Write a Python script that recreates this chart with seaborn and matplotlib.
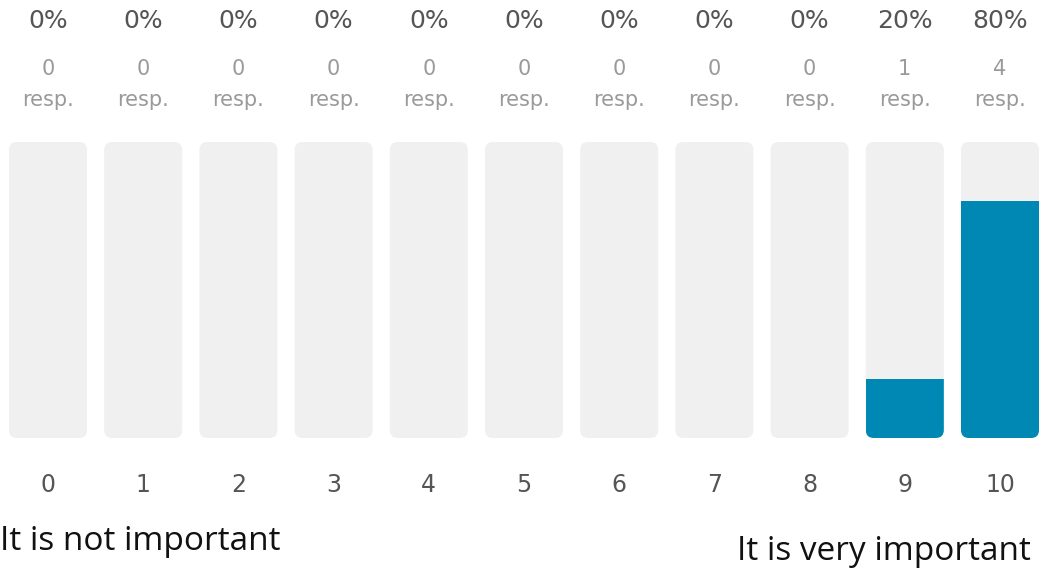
import numpy as np
import matplotlib
matplotlib.use("Agg")
import matplotlib.pyplot as plt
from matplotlib.patches import FancyBboxPatch
from matplotlib.transforms import blended_transform_factory
import seaborn as sns

# Survey scale 0-10, share of respondents per score
scores = ["0", "1", "2", "3", "4", "5", "6", "7", "8", "9", "10"]
responses = [0, 0, 0, 0, 0, 0, 0, 0, 0, 1, 4]
percents = [0, 0, 0, 0, 0, 0, 0, 0, 0, 20, 80]
track = [100] * len(scores)
low_label = "It is not important"
high_label = "It is very important"

BLUE = "#0088b4"
TRACK = "#f0f0f0"

sns.set_theme(style="white")
plt.rcParams["font.family"] = ["DejaVu Sans"]

W, H = 1052, 571
fig = plt.figure(figsize=(W / 100, H / 100), dpi=100)
ax = fig.add_axes([0.4 / W, (H - 438) / H, 1047.2 / W, 296 / H])

bar_w = 0.82
# grey track bars (full 100%)
sns.barplot(x=scores, y=track, color=TRACK, width=bar_w, ax=ax, saturation=1)
n_track = len(ax.patches)
track_patches = []
r_x = 0.085
aspect = (100 / 296) / (1 / 95.2)
for p in list(ax.patches)[:n_track]:
    x0, y0 = p.get_x(), p.get_y()
    w, h = p.get_width(), p.get_height()
    p.remove()
    rp = FancyBboxPatch((x0, y0), w, h,
                        boxstyle=f"round,pad=0,rounding_size={r_x}",
                        mutation_aspect=aspect, facecolor=TRACK,
                        edgecolor="none", zorder=1)
    ax.add_patch(rp)
    track_patches.append(rp)

# blue value bars clipped to the rounded tracks
before = len(ax.patches)
sns.barplot(x=scores, y=percents, color=BLUE, width=bar_w, ax=ax, saturation=1)
value_patches = list(ax.patches)[before:]
for vp, tp in zip(value_patches, track_patches):
    vp.set_zorder(2)
    vp.set_edgecolor("none")
    vp.set_clip_path(tp)

ax.set_xlim(-0.5, len(scores) - 0.5)
ax.set_ylim(0, 100)
ax.set_xlabel("")
ax.set_ylabel("")
ax.set_yticks([])
ax.set_xticks([])
sns.despine(ax=ax, left=True, bottom=True)

tr = blended_transform_factory(ax.transData, fig.transFigure)
for i, (pct, n) in enumerate(zip(percents, responses)):
    ax.text(i, 1 - 21 / H, f"{pct}%", transform=tr, ha="center", va="center",
            fontsize=18, color="#555555")
    ax.text(i, 1 - 69 / H, f"{n}", transform=tr, ha="center", va="center",
            fontsize=15, color="#9a9a9a")
    ax.text(i, 1 - 100 / H, "resp.", transform=tr, ha="center", va="center",
            fontsize=15, color="#9a9a9a")
    ax.text(i, 1 - 485 / H, scores[i], transform=tr, ha="center", va="center",
            fontsize=17, color="#555555")

fig.text(0 / W, 1 - 541 / H, low_label, ha="left", va="center",
         fontsize=24, color="#111111", family=["Open Sans", "DejaVu Sans"])
fig.text(1031 / W, 1 - 551 / H, high_label, ha="right", va="center",
         fontsize=24, color="#111111", family=["Open Sans", "DejaVu Sans"])

fig.savefig("out.png", dpi=100, facecolor="white")
